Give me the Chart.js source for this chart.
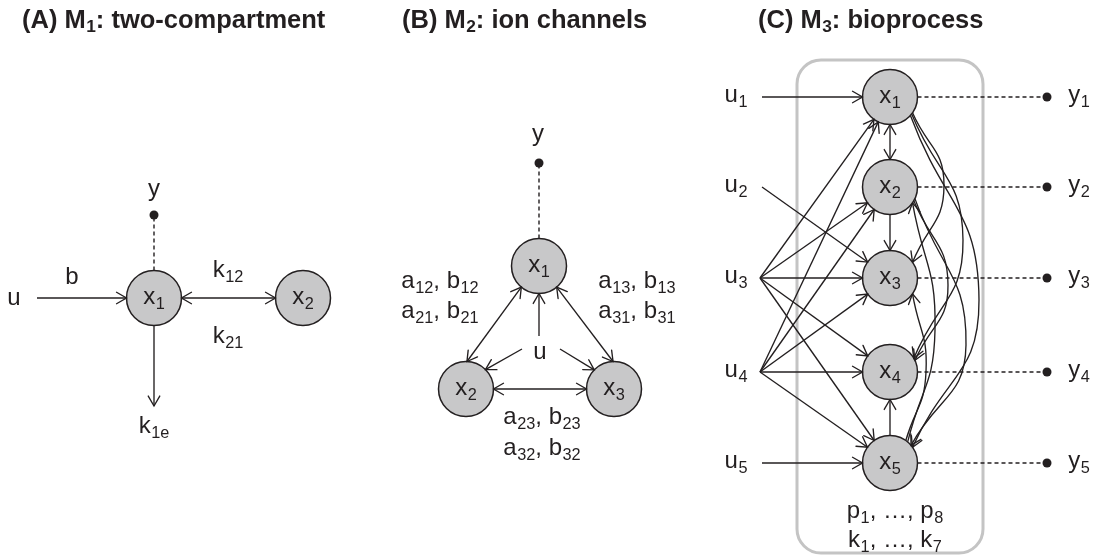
<!DOCTYPE html>
<html><head><meta charset="utf-8">
<script src="https://cdn.jsdelivr.net/npm/chart.js@4/dist/chart.umd.min.js"></script>
<style>html,body{margin:0;padding:0;background:#fff;overflow:hidden}canvas{display:block}</style>
</head><body>
<canvas id="c" width="1094" height="556"></canvas>
<script>
const W = 1094, H = 556;

// ---- panel titles ----
const titleText = ['(A) M_1: two-compartment', '(B) M_2: ion channels', '(C) M_3: bioprocess'];
const titleX = [22, 402, 758];
const titleY = [28, 28, 28];

// ---- compartments (nodes) ----
const nodeId   = ['A1', 'A2', 'B1', 'B2', 'B3', 'C1', 'C2', 'C3', 'C4', 'C5'];
const nodeText = ['x_1', 'x_2', 'x_1', 'x_2', 'x_3', 'x_1', 'x_2', 'x_3', 'x_4', 'x_5'];
const nodeX    = [154, 303, 539, 466, 614, 890, 890, 890, 890, 890];
const nodeY    = [298, 298, 266, 389, 389, 97, 187, 278, 372, 463];

// ---- terminals (inputs, outputs, sinks) ----
const termId = ['Au', 'Ak', 'Ay', 'By', 'Bu1', 'Bu2', 'Bu3', 'Cu1', 'Cu2', 'Cu3', 'Cu4', 'Cu5', 'Cy1', 'Cy2', 'Cy3', 'Cy4', 'Cy5'];
const termX  = [37, 154, 154, 539, 539, 522, 560, 762, 762, 760, 760, 762, 1047, 1047, 1047, 1047, 1047];
const termY  = [298, 406, 215, 163, 336, 349, 349, 97, 187, 278, 372, 463, 97, 187, 278, 372, 463];
const outputDots = ['Ay', 'By', 'Cy1', 'Cy2', 'Cy3', 'Cy4', 'Cy5'];

// ---- edges: [from, fromPortDeg, to, toPortDeg, via, heads(0/1/2), dashed] ----
const edgesA = [
  ['Au', null, 'A1', null, null, 1, 0],
  ['A1', null, 'A2', null, null, 2, 0],
  ['A1', null, 'Ak', null, null, 1, 0],
  ['A1', null, 'Ay', null, null, 0, 1]
];
const edgesB = [
  ['B1', null, 'By', null, null, 0, 1],
  ['B2', -88, 'B1', 130, null, 2, 0],
  ['B3', -92, 'B1', 50, null, 2, 0],
  ['Bu1', null, 'B1', null, null, 1, 0],
  ['Bu2', null, 'B2', -45, null, 1, 0],
  ['Bu3', null, 'B3', -136, null, 1, 0],
  ['B2', null, 'B3', null, null, 2, 0]
];
const edgesC = [
  ['Cu1', null, 'C1', null, null, 1, 0],
  ['Cu2', null, 'C3', null, null, 1, 0],
  ['Cu3', null, 'C1', null, null, 1, 0],
  ['Cu3', null, 'C2', null, null, 1, 0],
  ['Cu3', null, 'C3', null, null, 1, 0],
  ['Cu3', null, 'C4', null, null, 1, 0],
  ['Cu3', null, 'C5', null, null, 1, 0],
  ['Cu4', null, 'C1', null, null, 1, 0],
  ['Cu4', null, 'C2', null, null, 1, 0],
  ['Cu4', null, 'C3', null, null, 1, 0],
  ['Cu4', null, 'C4', null, null, 1, 0],
  ['Cu4', null, 'C5', null, null, 1, 0],
  ['Cu5', null, 'C5', null, null, 1, 0],
  ['C1', null, 'C2', null, null, 2, 0],
  ['C2', null, 'C3', null, null, 1, 0],
  ['C5', null, 'C4', null, null, 1, 0],
  ['C1', 35, 'C3', -35, [944, 185], 1, 0],
  ['C1', 38, 'C4', -30, [963, 240], 1, 0],
  ['C1', 42, 'C5', -35, [979, 300], 1, 0],
  ['C2', 25, 'C5', -40, [966, 345], 1, 0],
  ['C2', 30, 'C4', -25, [948, 285], 1, 0],
  ['C5', -50, 'C2', 35, [935, 330], 1, 0],
  ['C5', -55, 'C3', 35, [926, 372], 1, 0],
  ['C1', 0, 'Cy1', null, null, 0, 1],
  ['C2', 0, 'Cy2', null, null, 0, 1],
  ['C3', 0, 'Cy3', null, null, 0, 1],
  ['C4', 0, 'Cy4', null, null, 0, 1],
  ['C5', 0, 'Cy5', null, null, 0, 1]
];

// ---- free text labels (centre x, baseline y) ----
const labelText = ['u', 'b', 'k_{12}', 'k_{21}', 'k_{1e}', 'y',
  'y', 'a_{12}, b_{12}', 'a_{21}, b_{21}', 'a_{13}, b_{13}', 'a_{31}, b_{31}', 'u', 'a_{23}, b_{23}', 'a_{32}, b_{32}',
  'u_1', 'u_2', 'u_3', 'u_4', 'u_5', 'y_1', 'y_2', 'y_3', 'y_4', 'y_5', 'p_1, \u2026, p_8', 'k_1, \u2026, k_7'];
const labelX = [14, 72, 228, 228, 154, 154,
  538, 440, 440, 637, 637, 540, 542, 542,
  736, 736, 736, 736, 736, 1079, 1079, 1079, 1079, 1079, 895, 895];
const labelY = [305, 284, 277, 343, 433, 196,
  141, 288, 318, 288, 318, 359, 424, 455,
  102, 192, 283, 377, 468, 102, 192, 283, 377, 468, 518, 547];

// ---- frame of panel C ----
const frameX = [797, 983];
const frameY = [60, 553];

const INK = '#231f20';
const NODE_R = 27.5;
const FONT = '"Liberation Sans", Arial, Helvetica, sans-serif';

function lookup(id) {
  let i = nodeId.indexOf(id);
  if (i >= 0) return { node: true, x: nodeX[i], y: nodeY[i] };
  i = termId.indexOf(id);
  return { node: false, x: termX[i], y: termY[i] };
}
function endPoint(p, port, tx, ty) {
  if (!p.node) return { x: p.x, y: p.y };
  let a;
  if (port !== null) a = port * Math.PI / 180;
  else a = Math.atan2(ty - p.y, tx - p.x);
  return { x: p.x + NODE_R * Math.cos(a), y: p.y + NODE_R * Math.sin(a) };
}

const datasets = [];
datasets.push({
  label: 'nodes',
  data: nodeX.map((x, i) => ({ x: x, y: nodeY[i] })),
  pointRadius: NODE_R, pointHoverRadius: NODE_R,
  pointBackgroundColor: '#c8c8c9', pointBorderColor: INK, pointBorderWidth: 1.5,
  showLine: false, order: 0, clip: false
});
datasets.push({
  label: 'outputs',
  data: outputDots.map(id => { const p = lookup(id); return { x: p.x, y: p.y }; }),
  pointRadius: 4.5, pointHoverRadius: 4.5,
  pointBackgroundColor: INK, pointBorderColor: INK, pointBorderWidth: 0,
  showLine: false, order: 0, clip: false
});
[...edgesA, ...edgesB, ...edgesC].forEach(e => {
  const [f, fp, t, tp, via, heads, dashed] = e;
  const a = lookup(f), b = lookup(t);
  const s = endPoint(a, fp, via ? via[0] : b.x, via ? via[1] : b.y);
  const d = endPoint(b, tp, via ? via[0] : a.x, via ? via[1] : a.y);
  const pts = [s];
  if (via) pts.push({ x: via[0], y: via[1] });
  pts.push(d);
  datasets.push({
    label: f + '-' + t,
    data: pts,
    showLine: true, pointRadius: 0, pointHoverRadius: 0,
    borderColor: INK, borderWidth: dashed ? 1.4 : 1.35,
    borderDash: dashed ? [4, 3] : [],
    tension: via ? 0.5 : 0,
    fill: false, order: 1, clip: false,
    heads: heads
  });
});

function parseRich(str) {
  const segs = []; let buf = ''; let i = 0;
  while (i < str.length) {
    if (str[i] === '_') {
      if (buf) { segs.push([buf, false]); buf = ''; }
      if (str[i + 1] === '{') { const j = str.indexOf('}', i); segs.push([str.slice(i + 2, j), true]); i = j + 1; }
      else { segs.push([str[i + 1], true]); i += 2; }
    } else { buf += str[i]; i++; }
  }
  if (buf) segs.push([buf, false]);
  return segs;
}
function drawRich(ctx, str, x, y, size, bold, align) {
  const segs = parseRich(str);
  const w = bold ? 'bold ' : '';
  const sub = size * 0.68;
  let total = 0;
  segs.forEach(s => { ctx.font = w + (s[1] ? sub : size) + 'px ' + FONT; total += ctx.measureText(s[0]).width + (s[1] ? 0.5 : 0); });
  let cx = align === 'left' ? x : x - total / 2;
  ctx.textAlign = 'left'; ctx.textBaseline = 'alphabetic'; ctx.fillStyle = INK;
  segs.forEach(s => {
    ctx.font = w + (s[1] ? sub : size) + 'px ' + FONT;
    if (s[1]) cx += 0.5;
    ctx.fillText(s[0], cx, s[1] ? y + size * (bold ? 0.16 : 0.22) : y);
    cx += ctx.measureText(s[0]).width;
  });
}
function arrowHead(ctx, x, y, ang) {
  const L = 11.5, a = Math.PI / 6;
  ctx.beginPath();
  ctx.moveTo(x - L * Math.cos(ang - a), y - L * Math.sin(ang - a));
  ctx.lineTo(x, y);
  ctx.lineTo(x - L * Math.cos(ang + a), y - L * Math.sin(ang + a));
  ctx.stroke();
}

const diagramPlugin = {
  id: 'diagram',
  beforeDatasetsDraw(chart) {
    const ctx = chart.ctx, sx = chart.scales.x, sy = chart.scales.y;
    const x0 = sx.getPixelForValue(frameX[0]), x1 = sx.getPixelForValue(frameX[1]);
    const y0 = sy.getPixelForValue(frameY[0]), y1 = sy.getPixelForValue(frameY[1]);
    ctx.save();
    ctx.strokeStyle = '#c4c4c4'; ctx.lineWidth = 3;
    ctx.beginPath();
    ctx.roundRect(x0, y0, x1 - x0, y1 - y0, 24);
    ctx.stroke();
    ctx.restore();
  },
  afterDatasetsDraw(chart) {
    const ctx = chart.ctx, sx = chart.scales.x, sy = chart.scales.y;
    ctx.save();
    ctx.strokeStyle = INK; ctx.lineWidth = 1.35; ctx.lineCap = 'round'; ctx.lineJoin = 'miter'; ctx.setLineDash([]);
    chart.data.datasets.forEach((ds, i) => {
      if (!ds.heads) return;
      const pts = chart.getDatasetMeta(i).data;
      const n = pts.length;
      const last = pts[n - 1], prev = pts[n - 2];
      let fx = (last.cp1x !== undefined) ? last.cp1x : prev.x, fy = (last.cp1y !== undefined) ? last.cp1y : prev.y;
      if (Math.hypot(last.x - fx, last.y - fy) < 0.5) { fx = prev.x; fy = prev.y; }
      arrowHead(ctx, last.x, last.y, Math.atan2(last.y - fy, last.x - fx));
      if (ds.heads === 2) {
        const first = pts[0], nxt = pts[1];
        let gx = (first.cp2x !== undefined) ? first.cp2x : nxt.x, gy = (first.cp2y !== undefined) ? first.cp2y : nxt.y;
        if (Math.hypot(first.x - gx, first.y - gy) < 0.5) { gx = nxt.x; gy = nxt.y; }
        arrowHead(ctx, first.x, first.y, Math.atan2(first.y - gy, first.x - gx));
      }
    });
    nodeText.forEach((t, i) => drawRich(ctx, t, sx.getPixelForValue(nodeX[i]), sy.getPixelForValue(nodeY[i]) + 6, 24, false, 'center'));
    labelText.forEach((t, i) => drawRich(ctx, t, sx.getPixelForValue(labelX[i]), sy.getPixelForValue(labelY[i]), 24, false, 'center'));
    titleText.forEach((t, i) => drawRich(ctx, t, sx.getPixelForValue(titleX[i]), sy.getPixelForValue(titleY[i]), 25.5, true, 'left'));
    ctx.restore();
  }
};

new Chart(document.getElementById('c'), {
  type: 'scatter',
  data: { datasets: datasets },
  options: {
    responsive: false, animation: false, events: [], devicePixelRatio: 1,
    layout: { padding: 0, autoPadding: false },
    plugins: { legend: { display: false }, tooltip: { enabled: false } },
    elements: { line: { capBezierPoints: false } },
    scales: {
      x: { type: 'linear', min: 0, max: W, display: false },
      y: { type: 'linear', min: 0, max: H, reverse: true, display: false }
    }
  },
  plugins: [diagramPlugin]
});
</script>
</body></html>
